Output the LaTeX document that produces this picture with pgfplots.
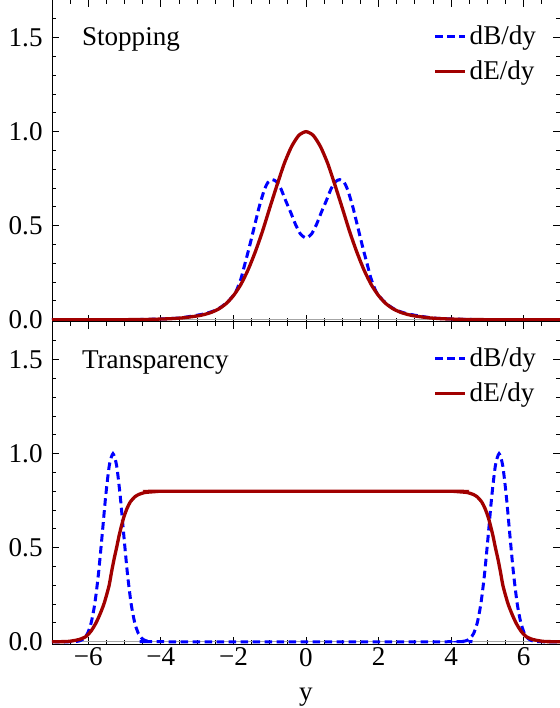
\documentclass[border=0pt]{standalone}
\usepackage{fontspec}
\setmainfont{Liberation Serif}
\usepackage{pgfplots}
\pgfplotsset{compat=1.18}
\definecolor{mmaBlue}{rgb}{0,0,1}
\definecolor{mmaRed}{rgb}{0.63,0,0}
\newcommand{\lblfont}{\fontsize{13.6}{15.5}\selectfont}

\pgfplotsset{
  panel/.style={
    scale only axis, width=254bp, height=161bp,
    xmin=-7, xmax=7, ymin=-0.012, ymax=1.7,
    axis line style={line width=0.5bp, black},
    tick align=inside,
    xtick={-6,-4,...,6},
    minor xtick={-7,-6.5,...,7},
    ytick={0,0.5,1,1.5},
    minor ytick={0,0.1,...,1.7},
    major tick length=3.5bp, minor tick length=2bp,
    every tick/.style={line width=0.5bp, black},
    tick label style={font=\lblfont},
    yticklabel style={xshift=-1.2bp,
      /pgf/number format/.cd, fixed, fixed zerofill, precision=1,
      assume math mode=true},
    legend style={at={(0.75,0.93)}, anchor=north west, draw=none, fill=none,
      font=\lblfont, inner sep=0pt, row sep=3.5bp,
      nodes={inner sep=1.5bp}},
    legend cell align=left,
    legend image code/.code={\draw[##1] (0bp,0bp) -- (15bp,0bp);},
  },
  dBline/.style={mmaBlue, line width=1.5bp, dash pattern=on 3.8bp off 2.2bp, smooth, tension=0.4},
  dEline/.style={mmaRed, line width=1.65bp, smooth, tension=0.4},
}

\begin{document}
\begin{tikzpicture}
\useasboundingbox (0,0) rectangle (280bp,354bp);

% ---- top panel: stopping ----
\begin{axis}[panel, at={(26bp,193bp)}, anchor=south west, xticklabels={}]
\addplot[gray!70, line width=0.7bp, forget plot] coordinates {(-7,0) (7,0)};
\addplot[dBline] coordinates {
  (-7,0) (-5,0.0005) (-4.5,0.0015) (-4,0.004) (-3.5,0.009) (-3,0.024)
  (-2.75,0.034) (-2.5,0.05) (-2.3,0.073) (-2.1,0.107) (-1.93,0.15)
  (-1.79,0.22) (-1.68,0.30) (-1.57,0.38) (-1.43,0.49) (-1.29,0.60)
  (-1.15,0.69) (-1.05,0.73) (-0.93,0.745) (-0.82,0.735) (-0.7,0.70)
  (-0.56,0.633) (-0.42,0.57) (-0.29,0.507) (-0.15,0.455) (0,0.435)
  (0.15,0.455) (0.29,0.507) (0.42,0.57) (0.56,0.633) (0.7,0.70)
  (0.82,0.735) (0.93,0.745) (1.05,0.73) (1.15,0.69) (1.29,0.60)
  (1.43,0.49) (1.57,0.38) (1.68,0.30) (1.79,0.22) (1.93,0.15)
  (2.1,0.107) (2.3,0.073) (2.5,0.05) (2.75,0.034) (3,0.024)
  (3.5,0.009) (4,0.004) (4.5,0.0015) (5,0.0005) (7,0)
};
\addlegendentry{dB/dy}
\addplot[dEline] coordinates {
  (-7,0) (-5,0.0004) (-4.4,0.0015) (-3.8,0.005) (-3.4,0.01) (-3,0.02)
  (-2.8,0.028) (-2.6,0.04) (-2.4,0.058) (-2.2,0.086) (-2,0.128)
  (-1.8,0.186) (-1.6,0.264) (-1.4,0.36) (-1.2,0.47) (-1,0.594)
  (-0.8,0.715) (-0.6,0.83) (-0.4,0.92) (-0.2,0.98) (0,1)
  (0.2,0.98) (0.4,0.92) (0.6,0.83) (0.8,0.715) (1,0.594)
  (1.2,0.47) (1.4,0.36) (1.6,0.264) (1.8,0.186) (2,0.128)
  (2.2,0.086) (2.4,0.058) (2.6,0.04) (2.8,0.028) (3,0.02)
  (3.4,0.01) (3.8,0.005) (4.4,0.0015) (5,0.0004) (7,0)
};
\addlegendentry{dE/dy}
\node[anchor=base west, font=\lblfont] at ([xshift=11.5bp, yshift=-23bp]rel axis cs:0,1) {Stopping};
\end{axis}

% ---- bottom panel: transparency ----
\begin{axis}[panel, at={(26bp,32bp)}, anchor=south west,
  xticklabels={−6,−4,−2,0,2,4,6},
  xticklabel style={yshift=1.5bp},
  xlabel={y}, xlabel style={at={(axis description cs:0.5,0)}, anchor=base, inner sep=0pt, yshift=-28bp, font=\lblfont}]
\addplot[gray!70, line width=0.7bp, forget plot] coordinates {(-7,0) (7,0)};
\addplot[dBline] coordinates {
  (-7,0) (-6.52,0) (-6.32,0.002) (-6.22,0.006) (-6.12,0.017) (-6.02,0.044)
  (-5.92,0.101) (-5.82,0.203) (-5.72,0.36) (-5.62,0.563) (-5.52,0.775)
  (-5.42,0.938) (-5.32,1) (-5.22,0.938) (-5.12,0.775) (-5.02,0.563)
  (-4.92,0.36) (-4.82,0.203) (-4.72,0.101) (-4.62,0.044) (-4.52,0.017)
  (-4.42,0.006) (-4.32,0.002) (-4.12,0)
  (4.12,0) (4.32,0.002) (4.42,0.006) (4.52,0.017) (4.62,0.044)
  (4.72,0.101) (4.82,0.203) (4.92,0.36) (5.02,0.563) (5.12,0.775)
  (5.22,0.938) (5.32,1) (5.42,0.938) (5.52,0.775) (5.62,0.563)
  (5.72,0.36) (5.82,0.203) (5.92,0.101) (6.02,0.044) (6.12,0.017)
  (6.22,0.006) (6.32,0.002) (6.52,0) (7,0)
};
\addlegendentry{dB/dy}
\addplot[dEline] coordinates {
  (-7,0) (-6.6,0.001) (-6.43,0.005) (-6.25,0.012) (-6.07,0.027) (-5.93,0.055)
  (-5.79,0.099) (-5.67,0.15) (-5.56,0.206) (-5.43,0.296) (-5.36,0.37)
  (-5.29,0.439) (-5.22,0.50) (-5.15,0.565) (-5.08,0.62) (-5.02,0.663)
  (-4.93,0.71) (-4.84,0.744) (-4.72,0.77) (-4.61,0.783) (-4.45,0.793)
  (-4.24,0.797) (-3.9,0.8)
  (3.9,0.8) (4.24,0.797) (4.45,0.793) (4.61,0.783) (4.72,0.77)
  (4.84,0.744) (4.93,0.71) (5.02,0.663) (5.08,0.62) (5.15,0.565)
  (5.22,0.50) (5.29,0.439) (5.36,0.37) (5.43,0.296) (5.56,0.206)
  (5.67,0.15) (5.79,0.099) (5.93,0.055) (6.07,0.027) (6.25,0.012)
  (6.43,0.005) (6.6,0.001) (7,0)
};
\addlegendentry{dE/dy}
\node[anchor=base west, font=\lblfont] at ([xshift=11.5bp, yshift=-23bp]rel axis cs:0,1) {Transparency};
\end{axis}
\end{tikzpicture}
\end{document}
